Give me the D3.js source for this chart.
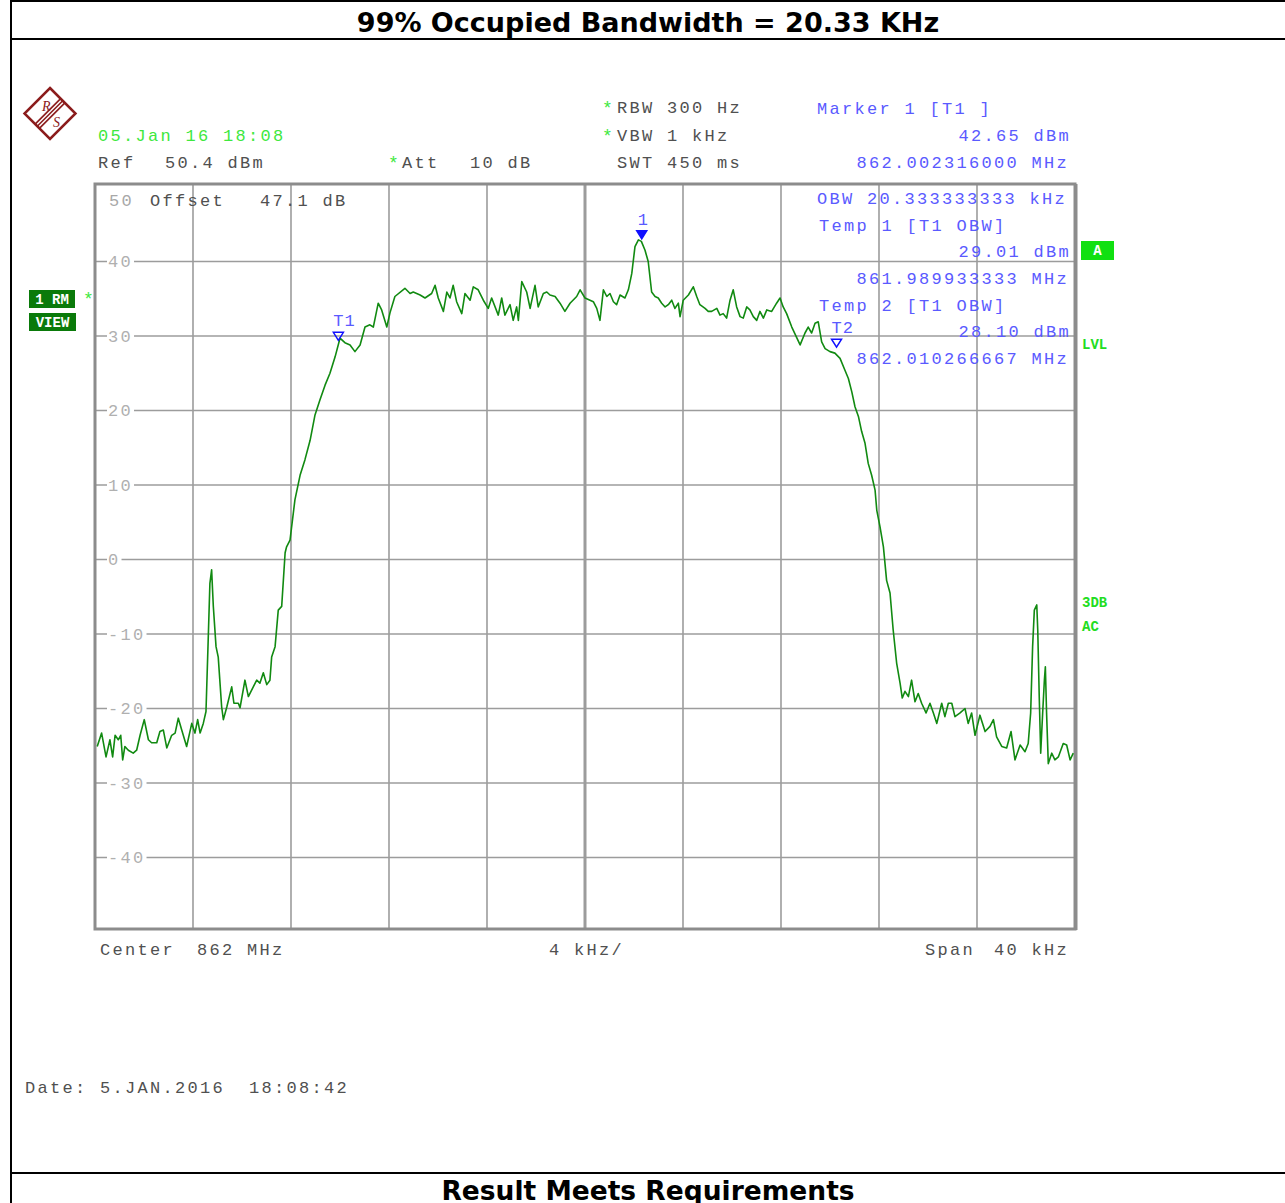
<!DOCTYPE html>
<html>
<head>
<meta charset="utf-8">
<script src="https://cdn.jsdelivr.net/npm/d3@7"></script>
<style>
  body { margin: 0; background: #fff; }
  svg text { font-family: "Liberation Mono", monospace; }
</style>
</head>
<body>
<div id="chart"></div>
<script>
// spectrum trace: offset from 862 MHz (kHz) and level (dBm)
const freqs = [
  -19.91,-19.73,-19.55,-19.39,-19.28,-19.18,-19.05,-18.95,-18.87,-18.78,
  -18.64,-18.44,-18.30,-18.16,-17.99,-17.82,-17.69,-17.48,-17.35,-17.21,
  -17.07,-16.87,-16.73,-16.60,-16.46,-16.26,-16.05,-15.92,-15.81,-15.71,
  -15.58,-15.47,-15.38,-15.31,-15.24,-15.17,-15.06,-14.97,-14.83,-14.76,
  -14.62,-14.42,-14.33,-14.15,-14.08,-13.88,-13.74,-13.54,-13.40,-13.27,
  -13.13,-12.99,-12.86,-12.79,-12.65,-12.52,-12.38,-12.24,-12.18,-12.04,
  -11.84,-11.63,-11.43,-11.22,-11.02,-10.82,-10.61,-10.41,-10.20,-10.00,
  -9.80,-9.59,-9.39,-9.18,-8.98,-8.78,-8.64,-8.44,-8.30,-8.09,
  -7.96,-7.76,-7.35,-7.14,-7.01,-6.73,-6.53,-6.26,-6.12,-5.99,
  -5.78,-5.64,-5.51,-5.38,-5.24,-5.03,-4.90,-4.69,-4.56,-4.36,
  -4.15,-3.95,-3.81,-3.54,-3.40,-3.27,-3.06,-2.93,-2.79,-2.72,
  -2.58,-2.38,-2.24,-2.04,-1.91,-1.70,-1.56,-1.43,-1.22,-1.02,
  -0.82,-0.61,-0.34,-0.20,0.00,0.34,0.48,0.61,0.75,0.89,
  1.02,1.16,1.29,1.43,1.63,1.77,1.91,2.04,2.18,2.30,
  2.45,2.58,2.72,2.86,2.99,3.13,3.27,3.40,3.54,3.67,
  3.81,3.88,4.01,4.22,4.42,4.56,4.69,4.90,5.03,5.17,
  5.38,5.51,5.64,5.78,5.92,6.05,6.19,6.33,6.46,6.60,
  6.73,6.87,7.01,7.14,7.28,7.42,7.62,7.82,7.96,8.09,
  8.23,8.44,8.78,8.98,9.11,9.25,9.39,9.52,9.66,9.80,
  10.00,10.20,10.41,10.61,10.75,10.89,11.02,11.16,11.29,11.43,
  11.56,11.70,11.84,11.91,12.04,12.18,12.31,12.45,12.58,12.72,
  12.86,12.95,13.06,13.20,13.33,13.47,13.60,13.74,13.92,14.08,
  14.22,14.36,14.56,14.69,14.83,14.97,15.10,15.31,15.51,15.64,
  15.78,15.92,16.12,16.33,16.53,16.67,16.80,17.01,17.21,17.39,
  17.55,17.76,17.96,18.09,18.19,18.27,18.34,18.44,18.48,18.54,
  18.60,18.68,18.75,18.79,18.84,18.91,19.05,19.18,19.32,19.52,
  19.66,19.80,19.93
];
const levels = [
  -25.1,-23.3,-26.5,-24.2,-26.5,-23.6,-24.2,-23.6,-26.9,-25.1,
  -25.6,-26.0,-25.6,-23.6,-21.5,-24.2,-24.6,-24.6,-23.1,-22.9,
  -25.3,-23.6,-23.3,-21.3,-22.9,-25.1,-22.0,-23.3,-21.5,-23.3,
  -22.0,-20.4,-10.8,-3.2,-1.4,-6.3,-11.7,-13.1,-19.8,-21.5,
  -19.8,-17.1,-19.3,-19.3,-19.9,-16.2,-18.4,-17.1,-16.2,-16.6,
  -15.2,-16.8,-16.2,-13.1,-11.7,-6.8,-6.3,0.9,1.7,2.6,
  8.0,11.3,13.4,16.0,19.4,21.4,23.4,25.0,27.2,29.7,
  29.1,28.8,27.9,28.8,31.2,31.5,31.2,34.4,33.5,31.2,
  33.1,35.3,36.4,35.7,35.9,35.5,35.1,35.7,36.8,35.1,
  33.3,35.9,35.1,36.8,34.6,33.0,35.7,34.8,36.6,36.2,
  34.8,33.7,35.1,32.8,35.1,32.8,34.2,32.1,33.9,32.1,
  37.3,35.9,33.7,36.8,33.9,35.7,35.9,35.5,35.3,34.4,
  33.3,34.4,35.3,36.2,35.1,34.6,33.7,32.1,36.2,35.3,
  35.7,34.6,34.2,35.5,35.1,36.2,38.4,42.0,42.9,42.7,
  41.5,40.0,35.9,35.3,35.1,34.4,33.9,34.2,34.8,33.7,
  34.4,32.6,34.8,35.5,36.6,35.3,34.2,33.7,33.3,33.3,
  33.7,32.8,33.0,32.4,34.8,36.2,33.9,32.6,32.4,33.9,
  33.5,32.6,32.1,33.3,32.4,33.5,33.3,34.4,35.1,33.9,
  33.0,31.2,28.8,30.4,31.2,30.4,31.7,31.9,29.2,28.3,
  27.9,27.7,27.0,25.4,24.3,22.5,20.5,19.2,17.2,15.6,
  12.9,11.3,9.3,6.6,4.4,1.7,-2.8,-4.5,-9.5,-13.9,
  -16.6,-18.6,-17.7,-18.4,-16.2,-19.1,-18.0,-19.3,-20.6,-19.3,
  -20.6,-22.0,-19.3,-21.1,-19.3,-19.3,-21.1,-20.6,-20.0,-22.0,
  -20.6,-23.6,-20.9,-23.1,-22.4,-21.5,-23.8,-25.1,-25.3,-23.1,
  -26.9,-24.9,-25.8,-24.7,-20.6,-11.7,-6.8,-6.1,-9.5,-18.4,
  -26.0,-20.6,-16.2,-14.4,-20.6,-27.4,-26.0,-26.9,-26.5,-24.7,
  -24.9,-26.9,-26.0
];

const xGrid = [-16, -12, -8, -4, 0, 4, 8, 12, 16];
const yTicks = [40, 30, 20, 10, 0, -10, -20, -30, -40];
const refLevel = 50.4;

// markers: name, offset (kHz), level (dBm)
const markerNames = ["1", "T1", "T2"];
const markerFreqs = [2.316, -10.066667, 10.266667];
const markerLevels = [42.65, 29.01, 28.10];
const obwKHz = "20.333333333";

const W = 1285, H = 1203;
const plot = { left: 95, right: 1075, top: 184, bottom: 929 };

const svg = d3.select("#chart").append("svg")
  .attr("width", W)
  .attr("height", H);

const x = d3.scaleLinear().domain([-20, 20]).range([plot.left, plot.right]);
const y = d3.scaleLinear().domain([refLevel - 100, refLevel]).range([plot.bottom, plot.top]);

const gray = "#505050", blue = "#5a5aff", green = "#3ee83e";
const LS = "2.3px";

function txt(px, py, s, color, opts) {
  opts = opts || {};
  return svg.append("text")
    .attr("x", px).attr("y", py)
    .attr("dy", "0.35em")
    .attr("text-anchor", opts.anchor || "start")
    .attr("font-size", opts.size || 17)
    .attr("font-weight", opts.weight || "normal")
    .attr("letter-spacing", opts.ls || LS)
    .attr("fill", color)
    .text(s);
}

// page frame
svg.append("line").attr("x1", 11).attr("x2", 11).attr("y1", 0).attr("y2", H)
  .attr("stroke", "#000").attr("stroke-width", 2);
[1, 39, 1173].forEach(v => {
  svg.append("line").attr("x1", 10).attr("x2", W).attr("y1", v).attr("y2", v)
    .attr("stroke", "#000").attr("stroke-width", 2);
});

svg.append("text").attr("x", 648).attr("y", 32)
  .attr("text-anchor", "middle")
  .style("font-family", "'DejaVu Sans', Verdana, sans-serif")
  .attr("font-weight", "bold").attr("font-size", 27)
  .text("99% Occupied Bandwidth = 20.33 KHz");
// the footer title is clipped by the page edge, as in the original printout
svg.append("text").attr("x", 648).attr("y", 1200)
  .attr("text-anchor", "middle")
  .style("font-family", "'DejaVu Sans', Verdana, sans-serif")
  .attr("font-weight", "bold").attr("font-size", 26.5)
  .text("Result Meets Requirements");

// grid
const grid = svg.append("g").attr("stroke", "#9c9c9c");
grid.selectAll("line.v").data(xGrid).join("line")
  .attr("class", "v")
  .attr("x1", d => x(d)).attr("x2", d => x(d))
  .attr("y1", plot.top).attr("y2", plot.bottom)
  .attr("stroke-width", d => d === 0 ? 3 : 1.6);
grid.selectAll("line.h").data(yTicks).join("line")
  .attr("class", "h")
  .attr("x1", plot.left).attr("x2", plot.right)
  .attr("y1", d => y(d)).attr("y2", d => y(d))
  .attr("stroke-width", 1.6);

// level labels sit on the grid lines with a white gap
const tk = svg.append("g").selectAll("g").data(yTicks).join("g");
tk.append("rect").attr("fill", "#fff");
tk.append("text")
  .attr("x", 108).attr("y", d => y(d)).attr("dy", "0.35em")
  .attr("font-size", 17).attr("letter-spacing", LS)
  .attr("fill", "#b0b0b0")
  .text(d => d);
tk.each(function() {
  const b = d3.select(this).select("text").node().getBBox();
  d3.select(this).select("rect")
    .attr("x", b.x - 1).attr("y", b.y + 3)
    .attr("width", b.width + 2).attr("height", b.height - 6);
});

// plot frame
svg.append("rect")
  .attr("x", plot.left).attr("y", plot.top)
  .attr("width", plot.right - plot.left).attr("height", plot.bottom - plot.top)
  .attr("fill", "none").attr("stroke", "#8c8c8c").attr("stroke-width", 3);
svg.append("line").attr("x1", plot.right + 1).attr("x2", plot.right + 1)
  .attr("y1", plot.top).attr("y2", plot.bottom + 1)
  .attr("stroke", "#8c8c8c").attr("stroke-width", 3);

// trace
const line = d3.line().x(d => x(d[0])).y(d => y(d[1]));
svg.append("path")
  .datum(d3.zip(freqs, levels))
  .attr("fill", "none")
  .attr("stroke", "#118a11")
  .attr("stroke-width", 1.6)
  .attr("stroke-linejoin", "round")
  .attr("d", line);

// marker symbols
markerNames.forEach((m, i) => {
  const mx = x(markerFreqs[i]), my = y(markerLevels[i]) - 3;
  svg.append("path")
    .attr("d", `M${mx - 5},${my - 8}L${mx + 5},${my - 8}L${mx},${my}Z`)
    .attr("fill", i === 0 ? "#1010ff" : "none")
    .attr("stroke", "#1010ff").attr("stroke-width", 1.5);
  if (i === 0) txt(mx + 1, my - 20, m, blue, { anchor: "middle", ls: "0px" });
  else txt(mx - 5, my - 20, m, blue, { ls: "1px" });
});

// R&S logo
const logo = svg.append("g").attr("transform", "translate(50,113.5)")
  .attr("stroke", "#8b1c1c").attr("fill", "none");
logo.append("path").attr("d", "M0,-25.5L25.5,0L0,25.5L-25.5,0Z").attr("stroke-width", 2.5);
[-3, 0, 3].forEach(o => {
  logo.append("line")
    .attr("x1", 12.75 + o * 0.7).attr("y1", -12.75 + o * 0.7)
    .attr("x2", -12.75 + o * 0.7).attr("y2", 12.75 + o * 0.7)
    .attr("stroke-width", 1.6);
});
logo.append("text").attr("x", -8).attr("y", -3).attr("stroke", "none")
  .attr("fill", "#8b1c1c").attr("font-size", 14).style("font-style", "italic")
  .style("font-family", "'Liberation Serif', serif").text("R");
logo.append("text").attr("x", 3).attr("y", 13).attr("stroke", "none")
  .attr("fill", "#8b1c1c").attr("font-size", 14).style("font-style", "italic")
  .style("font-family", "'Liberation Serif', serif").text("S");

// header settings
txt(98, 135, "05.Jan 16 18:08", green);
txt(98, 162, "Ref", gray);
txt(165, 162, "50.4 dBm", gray);
txt(388, 163, "*", green, { size: 18 });
txt(402, 162, "Att", gray);
txt(470, 162, "10 dB", gray);
txt(602, 108, "*", green, { size: 18 });
txt(617, 107, "RBW 300 Hz", gray);
txt(602, 136, "*", green, { size: 18 });
txt(617, 135, "VBW 1 kHz", gray);
txt(617, 162, "SWT 450 ms", gray);

txt(109, 200, "50", "#a8a8a8");
txt(150, 200, "Offset", gray);
txt(260, 200, "47.1 dB", gray);

// marker readout
const fmtF = f => (862 + f / 1000).toFixed(9) + " MHz";
const fmtL = l => l.toFixed(2) + " dBm";
txt(817, 108, "Marker 1 [T1 ]", blue);
txt(1071, 135, fmtL(markerLevels[0]), blue, { anchor: "end" });
txt(1069, 162, fmtF(markerFreqs[0]), blue, { anchor: "end" });
txt(817, 198, "OBW " + obwKHz + " kHz", blue);
txt(819, 225, "Temp 1 [T1 OBW]", blue);
txt(1071, 251, fmtL(markerLevels[1]), blue, { anchor: "end" });
txt(1069, 278, fmtF(markerFreqs[1]), blue, { anchor: "end" });
txt(819, 305, "Temp 2 [T1 OBW]", blue);
txt(1071, 331, fmtL(markerLevels[2]), blue, { anchor: "end" });
txt(1069, 358, fmtF(markerFreqs[2]), blue, { anchor: "end" });

// side badges
function badge(bx, by, bw, bh, s, bg) {
  svg.append("rect").attr("x", bx).attr("y", by).attr("width", bw).attr("height", bh).attr("fill", bg);
  svg.append("text").attr("x", bx + bw / 2).attr("y", by + bh / 2).attr("dy", "0.35em")
    .attr("text-anchor", "middle").attr("font-size", 14).attr("font-weight", "bold")
    .attr("fill", "#fff").text(s);
}
badge(29, 290, 46, 18, "1 RM", "#0a7a0a");
badge(29, 313, 47, 18, "VIEW", "#0a7a0a");
txt(83, 299, "*", green, { size: 18 });
badge(1081, 241, 33, 19, "A", "#11e011");
const sideGreen = "#22dd22";
[["LVL", 344], ["3DB", 602], ["AC", 626]].forEach(([s, py]) => {
  txt(1082, py, s, sideGreen, { size: 14, weight: "bold", ls: "0px" });
});

// footer
txt(100, 949, "Center", gray);
txt(197, 949, "862 MHz", gray);
txt(549, 949, "4 kHz/", gray);
txt(925, 949, "Span", gray);
txt(1069, 949, "40 kHz", gray, { anchor: "end" });
txt(25, 1087, "Date: 5.JAN.2016", gray);
txt(249, 1087, "18:08:42", gray);
</script>
</body>
</html>
